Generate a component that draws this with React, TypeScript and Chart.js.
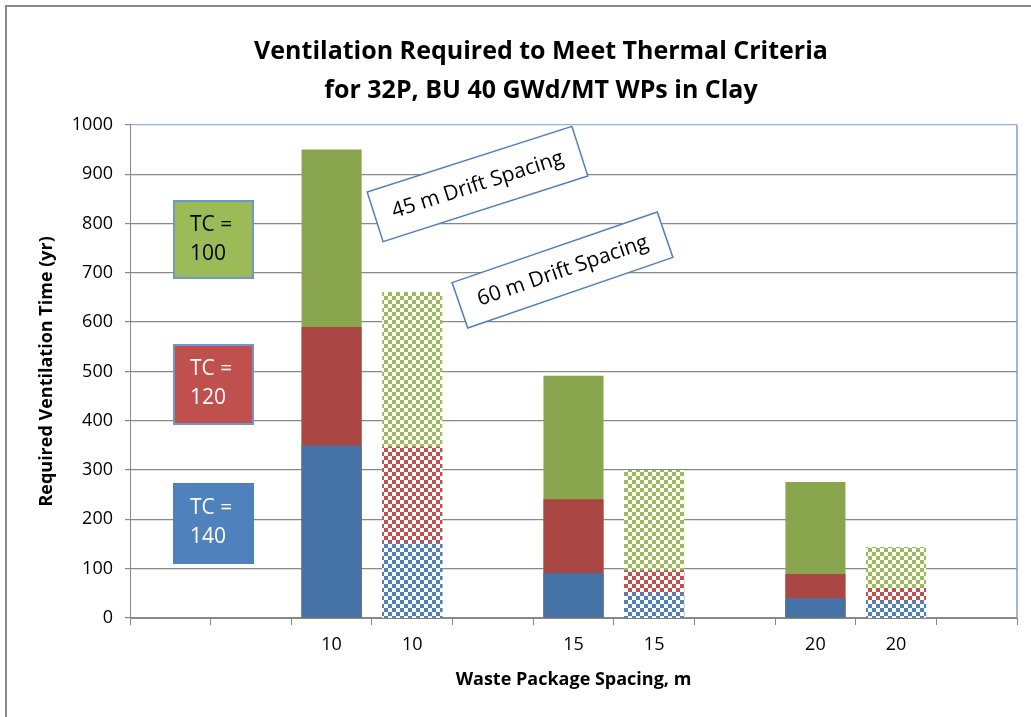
import React, { useEffect, useRef } from "react";
import { Chart, registerables } from "chart.js";

Chart.register(...registerables);

// ---- data ----
const categories = ["", "", "10", "10", "", "15", "15", "", "20", "20", ""];
const driftSpacing = ["", "", "45", "60", "", "45", "60", "", "45", "60", ""];
const tc140 = [null, null, 350, 152, null, 91, 51, null, 40, 35, null];
const tc120 = [null, null, 590, 347, null, 241, 97, null, 89, 61, null];
const tc100 = [null, null, 950, 661, null, 491, 300, null, 276, 144, null];
const yTickMin = 0;
const yTickMax = 1000;
const yTickStep = 100;

const titleLines = [
  "Ventilation Required to Meet Thermal Criteria",
  "for 32P, BU 40 GWd/MT WPs in Clay",
];
const xAxisTitle = "Waste Package Spacing, m";
const yAxisTitle = "Required Ventilation Time (yr)";
const tcBoxLabels = [
  ["TC =", "100"],
  ["TC =", "120"],
  ["TC =", "140"],
];
const spacingBoxLabels = ["45 m Drift Spacing", "60 m Drift Spacing"];

// ---- styles ----
const FONT = "'Open Sans', Lato, sans-serif";
const solidColors = { tc140: "#4572A7", tc120: "#AA4643", tc100: "#89A54E" };
const checkColors = { tc140: "#4F81BD", tc120: "#C0504D", tc100: "#9BBB59" };
const gridGray = "#888888";

function makeChecker(color: string): CanvasPattern | string {
  const c = document.createElement("canvas");
  c.width = 8;
  c.height = 8;
  const g = c.getContext("2d");
  if (!g) return color;
  g.fillStyle = "#ffffff";
  g.fillRect(0, 0, 8, 8);
  g.fillStyle = color;
  g.fillRect(0, 0, 4, 4);
  g.fillRect(4, 4, 4, 4);
  const p = g.createPattern(c, "repeat");
  return p || color;
}

const tcBoxes = [
  { x: 174, y: 201, w: 79, h: 77, fill: "#9BBB59", text: "#000000", border: "#7196CC" },
  { x: 174, y: 345, w: 79, h: 79, fill: "#C0504D", text: "#ffffff", border: "#7196CC" },
  { x: 174, y: 484, w: 79, h: 79, fill: "#4F81BD", text: "#ffffff", border: "#4F81BD" },
];
const spacingBoxes = [
  { cx: 477.5, cy: 184, w: 215, h: 52, angle: -17.8 },
  { cx: 562.5, cy: 270, w: 217, h: 48, angle: -19.0 },
];

const decorPlugin = {
  id: "decor",
  beforeDraw(chart: any) {
    const ctx = chart.ctx;
    ctx.save();
    ctx.fillStyle = "#ffffff";
    ctx.fillRect(0, 0, chart.width, chart.height);
    ctx.strokeStyle = "#8a8a8a";
    ctx.lineWidth = 2;
    ctx.strokeRect(6, 6, chart.width + 50, chart.height + 50);
    ctx.restore();
  },
  afterDraw(chart: any) {
    const ctx = chart.ctx;
    const area = chart.chartArea;
    ctx.save();
    ctx.strokeStyle = "#7F9FCF";
    ctx.lineWidth = 1.5;
    ctx.beginPath();
    ctx.moveTo(area.right, area.top);
    ctx.lineTo(area.right, area.bottom);
    ctx.stroke();

    tcBoxes.forEach((b, i) => {
      ctx.fillStyle = b.fill;
      ctx.fillRect(b.x, b.y, b.w, b.h);
      ctx.strokeStyle = b.border;
      ctx.lineWidth = 2;
      ctx.strokeRect(b.x, b.y, b.w, b.h);
      ctx.fillStyle = b.text;
      ctx.font = `21px ${FONT}`;
      ctx.textAlign = "left";
      ctx.textBaseline = "middle";
      const lines = tcBoxLabels[i];
      ctx.fillText(lines[0], b.x + 16, b.y + 24);
      ctx.fillText(lines[1], b.x + 16, b.y + 53);
    });

    spacingBoxes.forEach((b, i) => {
      ctx.save();
      ctx.translate(b.cx, b.cy);
      ctx.rotate((b.angle * Math.PI) / 180);
      ctx.fillStyle = "#ffffff";
      ctx.fillRect(-b.w / 2, -b.h / 2, b.w, b.h);
      ctx.strokeStyle = "#4F81BD";
      ctx.lineWidth = 1.5;
      ctx.strokeRect(-b.w / 2, -b.h / 2, b.w, b.h);
      ctx.fillStyle = "#000000";
      ctx.font = `21px ${FONT}`;
      ctx.textAlign = "center";
      ctx.textBaseline = "middle";
      ctx.fillText(spacingBoxLabels[i], 0, 1);
      ctx.restore();
    });
    ctx.restore();
  },
};

export default function App() {
  const ref = useRef<HTMLCanvasElement | null>(null);

  useEffect(() => {
    if (!ref.current) return;
    const styleFor = (key: "tc140" | "tc120" | "tc100") => {
      const pat = makeChecker(checkColors[key]);
      return driftSpacing.map((d) => (d === "60" ? pat : solidColors[key]));
    };
    const chart = new Chart(ref.current, {
      type: "bar",
      data: {
        labels: categories,
        datasets: [
          { label: "TC = 140", data: tc140, backgroundColor: styleFor("tc140") as any, grouped: false },
          { label: "TC = 120", data: tc120, backgroundColor: styleFor("tc120") as any, grouped: false },
          { label: "TC = 100", data: tc100, backgroundColor: styleFor("tc100") as any, grouped: false },
        ],
      },
      options: {
        responsive: false,
        animation: false,
        devicePixelRatio: 1,
        layout: { padding: { left: 65, right: 14, top: 0, bottom: 0 } },
        datasets: { bar: { barPercentage: 1, categoryPercentage: 0.745 } } as any,
        plugins: {
          legend: { display: false },
          tooltip: { enabled: false },
          title: {
            display: true,
            text: titleLines,
            color: "#000000",
            font: { family: FONT, size: 25, weight: "bold", lineHeight: 1.536 },
            padding: { top: 33, bottom: 15 },
          },
        },
        scales: {
          x: {
            type: "category",
            grid: {
              offset: true,
              drawOnChartArea: false,
              tickLength: 7,
              color: gridGray,
            },
            border: { color: gridGray, width: 1 },
            ticks: {
              color: "#000000",
              font: { family: FONT, size: 18 },
              padding: 9,
              maxRotation: 0,
              autoSkip: false,
            },
            title: {
              display: true,
              text: xAxisTitle,
              color: "#000000",
              font: { family: FONT, size: 18, weight: "bold" },
              padding: { top: 0, bottom: 26 },
            },
            afterFit: (s: any) => {
              s.height = 99;
            },
          },
          y: {
            min: yTickMin,
            max: yTickMax,
            grid: {
              color: (c: any) => (c.tick && c.tick.value === yTickMax ? "#95B3D7" : gridGray),
              tickColor: gridGray,
              tickLength: 5,
              lineWidth: 1.2,
            },
            border: { color: gridGray, width: 1 },
            ticks: {
              stepSize: yTickStep,
              color: "#000000",
              font: { family: FONT, size: 18 },
              padding: 12,
              callback: (v: any) => String(v),
            },
            title: {
              display: true,
              text: yAxisTitle,
              color: "#000000",
              font: { family: FONT, size: 18, weight: "bold" },
              padding: { top: -29, bottom: 0 },
            },
            afterFit: (s: any) => {
              s.width = 65;
            },
          },
        },
      },
      plugins: [decorPlugin],
    });
    return () => chart.destroy();
  }, []);

  return (
    <div style={{ position: "fixed", left: 0, top: 0, width: 1031, height: 717, background: "#fff" }}>
      <canvas ref={ref} width={1031} height={717} style={{ display: "block" }} />
    </div>
  );
}
